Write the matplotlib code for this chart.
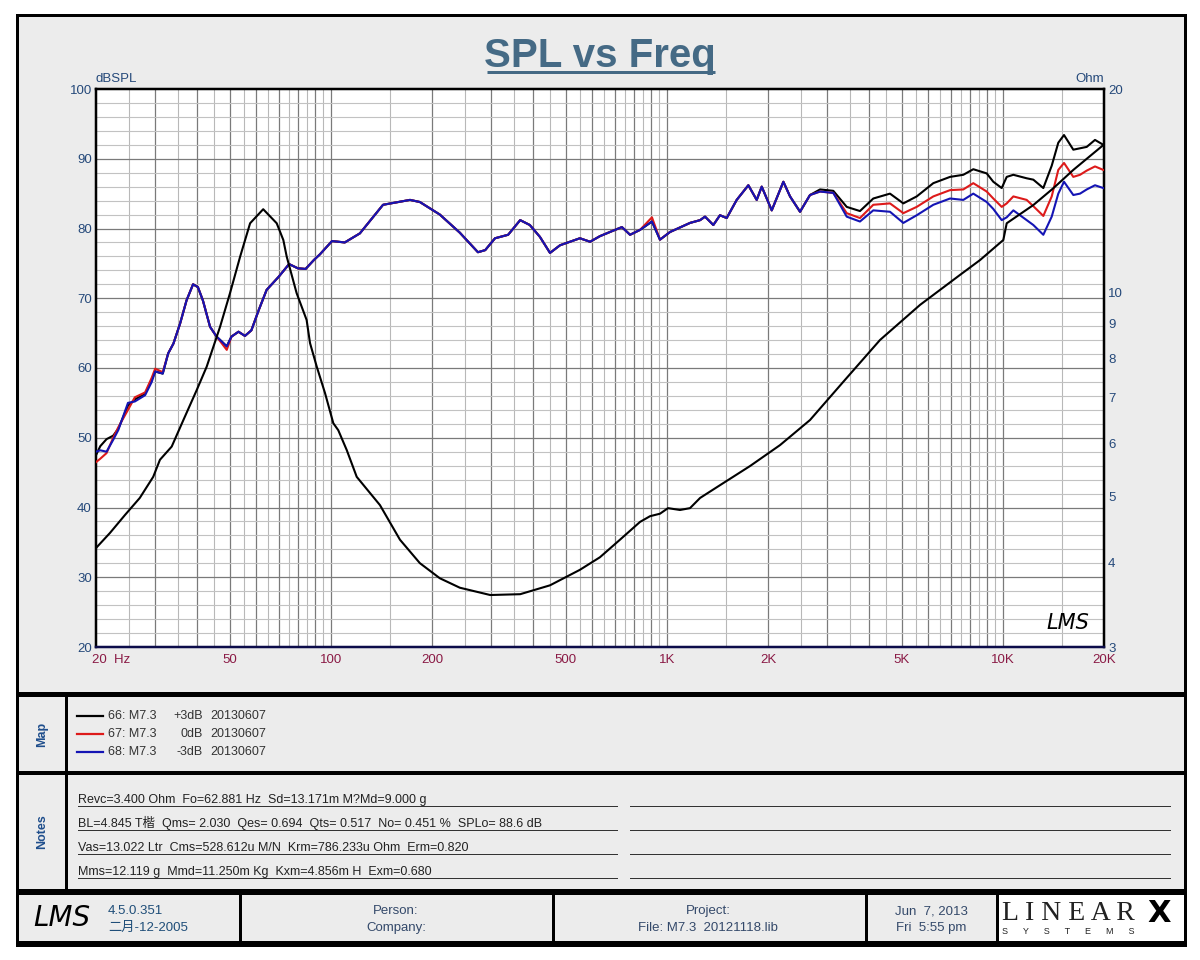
import matplotlib
matplotlib.use('Agg')
import matplotlib.pyplot as plt
from matplotlib.patches import Rectangle
from matplotlib.ticker import NullLocator, NullFormatter
from matplotlib.transforms import ScaledTranslation

plt.rcParams['font.family'] = ['Liberation Sans', 'Noto Sans CJK SC', 'DejaVu Sans']

W, H = 1200, 960

# ---- SPL curves (dB) ----
spl_freq = [20, 20.6, 21.5, 22.5, 23.3, 24.9, 26.1, 28.0, 29.3, 30.0,
            31.6, 32.8, 34.0, 35.6, 37.2, 38.9, 40.2, 41.6, 43.7, 45.7,
            49.0, 50.6, 53.1, 55.5, 58.0, 61.0, 64.4, 70.0, 75.1, 79.7,
            84.1, 89.1, 92.8, 100.8, 110, 122, 143, 172, 184, 211,
            242, 274, 288, 308, 337, 366, 391, 419, 449, 481,
            551, 591, 632, 701, 735, 777, 832, 903, 954, 1022,
            1172, 1256, 1299, 1375, 1439, 1507, 1614, 1748, 1851, 1916,
            2052, 2222, 2326, 2491, 2667, 2857, 3129, 3430, 3756, 4115,
            4614, 5056, 5542, 6209, 6963, 7626, 8166, 8952, 9367, 9922,
            10268, 10746, 11773, 12323, 13196, 13977, 14622, 15206, 16206, 16971,
            17768, 18804, 19908]

spl_blue = [48.0, 48.2, 48.0, 49.7, 51.1, 55.0, 55.2, 56.1, 58.0, 59.5,
            59.2, 62.1, 63.5, 66.4, 69.7, 72.0, 71.6, 69.7, 65.9, 64.5,
            63.1, 64.5, 65.2, 64.6, 65.4, 68.3, 71.2, 73.1, 74.9, 74.3,
            74.2, 75.5, 76.3, 78.2, 78.0, 79.3, 83.4, 84.1, 83.8, 82.0,
            79.4, 76.6, 76.9, 78.6, 79.1, 81.2, 80.5, 78.8, 76.5, 77.6,
            78.6, 78.1, 78.9, 79.8, 80.2, 79.1, 79.8, 81.0, 78.4, 79.5,
            80.8, 81.2, 81.7, 80.5, 81.9, 81.5, 84.1, 86.2, 84.1, 86.0,
            82.6, 86.7, 84.6, 82.4, 84.8, 85.3, 85.1, 81.7, 81.0, 82.6,
            82.4, 80.8, 81.9, 83.4, 84.3, 84.1, 85.0, 83.8, 82.8, 81.2,
            81.6, 82.6, 81.2, 80.5, 79.1, 81.7, 85.0, 86.7, 84.8, 85.0,
            85.6, 86.2, 85.8]

spl_red = [46.5, 47.0, 47.8, 50.0, 51.5, 54.0, 55.8, 56.5, 58.6, 59.9,
           59.4, 62.1, 63.5, 66.4, 69.7, 72.0, 71.6, 69.7, 65.9, 64.5,
           62.6, 64.5, 65.2, 64.6, 65.4, 68.3, 71.2, 73.1, 74.9, 74.3,
           74.2, 75.5, 76.3, 78.2, 78.0, 79.3, 83.4, 84.1, 83.8, 82.0,
           79.4, 76.6, 76.9, 78.6, 79.1, 81.2, 80.5, 78.8, 76.5, 77.6,
           78.6, 78.1, 78.9, 79.8, 80.2, 79.1, 79.8, 81.6, 78.4, 79.5,
           80.8, 81.2, 81.7, 80.5, 81.9, 81.5, 84.1, 86.2, 84.1, 86.0,
           82.6, 86.7, 84.6, 82.4, 84.8, 85.3, 85.1, 82.2, 81.5, 83.4,
           83.6, 82.2, 83.1, 84.6, 85.5, 85.6, 86.5, 85.3, 84.3, 83.1,
           83.6, 84.6, 84.1, 83.2, 81.8, 84.6, 88.4, 89.4, 87.4, 87.7,
           88.3, 88.9, 88.4]

spl_black = [47.5, 48.8, 49.8, 50.3, 51.3, 54.6, 55.5, 56.3, 58.3, 59.5,
             59.2, 62.1, 63.5, 66.4, 69.7, 72.0, 71.6, 69.7, 65.9, 64.5,
             63.1, 64.5, 65.2, 64.6, 65.4, 68.3, 71.2, 73.1, 74.9, 74.3,
             74.2, 75.5, 76.3, 78.2, 78.0, 79.3, 83.4, 84.1, 83.8, 82.0,
             79.4, 76.6, 76.9, 78.6, 79.1, 81.2, 80.5, 78.8, 76.5, 77.6,
             78.6, 78.1, 78.9, 79.8, 80.2, 79.1, 79.8, 81.0, 78.4, 79.5,
             80.8, 81.2, 81.7, 80.5, 81.9, 81.5, 84.1, 86.2, 84.1, 86.0,
             82.6, 86.7, 84.6, 82.4, 84.8, 85.6, 85.4, 83.1, 82.5, 84.3,
             85.0, 83.6, 84.6, 86.5, 87.4, 87.7, 88.5, 87.9, 86.7, 85.8,
             87.4, 87.7, 87.2, 87.0, 85.8, 89.0, 92.3, 93.4, 91.3, 91.5,
             91.7, 92.7, 92.0]

# ---- impedance curve (Ohm) ----
imp_freq = [20, 22.0, 24.4, 27.0, 29.6, 31.0, 33.6, 36.4, 39.9, 42.7,
            46.8, 50.1, 53.7, 57.5, 62.9, 69.0, 72.2, 73.9, 79.1, 84.7,
            86.7, 90.8, 96.1, 101.7, 105.2, 111.5, 119.4, 140, 160.6, 184,
            211, 242, 298, 366, 449, 551, 632, 725, 832, 891,
            954, 1008, 1094, 1172, 1256, 1439, 1768, 2172, 2667, 3390,
            4309, 5670, 7456, 8552, 10032, 10268, 12323, 14126, 16206, 19908]
imp_ohm = [4.20, 4.42, 4.70, 4.98, 5.35, 5.67, 5.93, 6.49, 7.19, 7.78,
           8.91, 9.99, 11.31, 12.67, 13.29, 12.67, 11.97, 11.31, 9.99, 9.12,
           8.43, 7.78, 7.11, 6.42, 6.27, 5.86, 5.35, 4.86, 4.32, 3.99,
           3.79, 3.67, 3.58, 3.59, 3.70, 3.90, 4.07, 4.32, 4.59, 4.68,
           4.72, 4.81, 4.78, 4.81, 4.98, 5.20, 5.55, 5.96, 6.49, 7.44,
           8.52, 9.60, 10.63, 11.18, 11.97, 12.67, 13.48, 14.27, 15.19, 16.53]

x_ticks = [20, 50, 100, 200, 500, 1000, 2000, 5000, 10000, 20000]
x_tick_labels = ['20  Hz', '50', '100', '200', '500', '1K', '2K', '5K', '10K', '20K']
db_ticks = [20, 30, 40, 50, 60, 70, 80, 90, 100]
ohm_ticks = [3, 4, 5, 6, 7, 8, 9, 10, 20]

legend_names = ['66: M7.3', '67: M7.3', '68: M7.3']
legend_levels = ['+3dB', '0dB', '-3dB']
legend_dates = ['20130607', '20130607', '20130607']
legend_colors = ['black', '#dd1a1a', '#1414b4']

notes_lines = [
    'Revc=3.400 Ohm  Fo=62.881 Hz  Sd=13.171m M?Md=9.000 g',
    'BL=4.845 T楷  Qms= 2.030  Qes= 0.694  Qts= 0.517  No= 0.451 %  SPLo= 88.6 dB',
    'Vas=13.022 Ltr  Cms=528.612u M/N  Krm=786.233u Ohm  Erm=0.820',
    'Mms=12.119 g  Mmd=11.250m Kg  Kxm=4.856m H  Exm=0.680',
]

GRAY_BG = '#ececec'
AX_BLUE = '#25497a'
TICK_RED = '#8a1a45'
TITLE_COL = '#456a85'
FOOT_COL = '#34496a'
PX = 0.72  # one pixel in points at dpi 100

fig = plt.figure(figsize=(12, 9.6), dpi=100)
fig.patch.set_facecolor('white')

# background layer in pixel coordinates
bg = fig.add_axes([0, 0, 1, 1], zorder=0)
bg.set_xlim(0, W)
bg.set_ylim(H, 0)
bg.axis('off')

bg.add_patch(Rectangle((17, 15), 1168, 930, facecolor=GRAY_BG,
                       edgecolor='black', lw=3 * PX))
bg.add_patch(Rectangle((998, 895), 186, 48, facecolor='white', edgecolor='none'))

def hline(y, x0=17, x1=1185, w=3):
    bg.plot([x0, x1], [y, y], color='black', lw=w * PX, solid_capstyle='butt')

def vline(x, y0, y1, w=3):
    bg.plot([x, x], [y0, y1], color='black', lw=w * PX, solid_capstyle='butt')

hline(694, w=5)
hline(773, w=4)
hline(892, w=6)
hline(943, w=4)
vline(66, 694, 892, w=3)
for xd in [240, 553, 866, 997]:
    vline(xd, 892, 943, w=3)

# title
bg.text(600, 67, 'SPL vs Freq', ha='center', va='baseline', fontsize=29,
        fontweight='bold', color=TITLE_COL)
bg.plot([487, 715], [72, 72], color=TITLE_COL, lw=3 * PX, solid_capstyle='butt')

bg.text(96, 79, 'dBSPL', ha='left', va='center', fontsize=9.5, color=AX_BLUE)
bg.text(1104, 79, 'Ohm', ha='right', va='center', fontsize=9.5, color=AX_BLUE)

# Map panel
bg.text(42, 734, 'Map', rotation=90, ha='center', va='center', fontsize=9,
        fontweight='bold', color='#1f4e8c')
for i in range(3):
    yy = 716 + 18 * i
    bg.plot([77, 103], [yy, yy], color=legend_colors[i], lw=1.6)
    bg.text(108, yy, legend_names[i], ha='left', va='center', fontsize=9, color='#333333')
    bg.text(203, yy, legend_levels[i], ha='right', va='center', fontsize=9, color='#333333')
    bg.text(210, yy, legend_dates[i], ha='left', va='center', fontsize=9, color='#333333')

# Notes panel
bg.text(42, 832, 'Notes', rotation=90, ha='center', va='center', fontsize=9,
        fontweight='bold', color='#1f4e8c')
for i, line in enumerate(notes_lines):
    yy = 803 + 24 * i
    bg.text(78, yy, line, ha='left', va='baseline', fontsize=9, color='#222222')
    bg.plot([78, 617], [yy + 2.5, yy + 2.5], color='#333333', lw=1.0 * PX)
    bg.plot([630, 1170], [yy + 2.5, yy + 2.5], color='#333333', lw=1.0 * PX)

# footer
bg.text(62, 918, 'LMS', ha='center', va='center', fontsize=20, style='italic',
        family='DejaVu Sans', fontweight='light', color='black')
bg.text(108, 911, '4.5.0.351', ha='left', va='center', fontsize=9.5, color='#1f4e79')
bg.text(108, 928, '二月-12-2005', ha='left', va='center', fontsize=9.5, color='#1f4e79',
        family=['Liberation Sans', 'Noto Sans CJK SC'])
bg.text(396, 911, 'Person:', ha='center', va='center', fontsize=9.5, color=FOOT_COL)
bg.text(396, 928, 'Company:', ha='center', va='center', fontsize=9.5, color=FOOT_COL)
bg.text(708, 911, 'Project:', ha='center', va='center', fontsize=9.5, color=FOOT_COL)
bg.text(708, 928, 'File: M7.3  20121118.lib', ha='center', va='center', fontsize=9.5,
        color=FOOT_COL)
bg.text(931, 911, 'Jun  7, 2013', ha='center', va='center', fontsize=9.5, color=FOOT_COL)
bg.text(931, 928, 'Fri  5:55 pm', ha='center', va='center', fontsize=9.5, color=FOOT_COL)
bg.text(1002, 914, 'L I N E A R', ha='left', va='center', fontsize=20,
        family='Liberation Serif', color='#222222')
bg.text(1147, 913, 'X', ha='left', va='center', fontsize=22, fontweight='bold',
        family='DejaVu Sans', color='black')
bg.text(1002, 931, 'S      Y      S      T      E      M      S', ha='left', va='center',
        fontsize=6.5, color='#222222')

# ---- main plot ----
ax = fig.add_axes([96 / W, 1 - 647 / H, 1008 / W, 558 / H], zorder=2)
ax.set_facecolor('white')
ax.set_xscale('log')
ax.set_xlim(20, 20000)
ax.set_ylim(20, 100)

# grid lines: dark on 1-2-3..9 x decade, light on the half steps
dark_f, light_f = [], []
for dec in [10, 100, 1000, 10000]:
    for m in range(1, 10):
        f = m * dec
        if 20 < f < 20000:
            dark_f.append(f)
        fh = (m + 0.5) * dec
        if 20 < fh < 20000:
            light_f.append(fh)
for f in light_f:
    ax.axvline(f, color='#b8b8b8', lw=0.8, zorder=0)
for f in dark_f:
    ax.axvline(f, color='#7a7a7a', lw=0.9, zorder=0)
for d in range(22, 100, 2):
    ax.axhline(d, color='#7a7a7a' if d % 10 == 0 else '#c2c2c2',
               lw=0.9 if d % 10 == 0 else 0.8, zorder=0)

ax.plot(spl_freq, spl_black, color='black', lw=1.5, zorder=3)
ax.plot(spl_freq, spl_red, color='#dd1a1a', lw=1.5, zorder=4)
ax.plot(spl_freq, spl_blue, color='#1414b4', lw=1.5, zorder=5)

ax.set_xticks(x_ticks)
ax.set_xticklabels(x_tick_labels)
ax.xaxis.set_minor_locator(NullLocator())
ax.set_yticks(db_ticks)
ax.tick_params(axis='x', length=0, pad=5, labelsize=9.5, labelcolor=TICK_RED)
ax.tick_params(axis='y', length=0, pad=3, labelsize=9.5, labelcolor=AX_BLUE)
first = ax.get_xticklabels()[0]
first.set_ha('left')
first.set_transform(first.get_transform() + ScaledTranslation(-4 / 100, 0, fig.dpi_scale_trans))

for side in ['left', 'top', 'right']:
    ax.spines[side].set_linewidth(2.5 * PX)
    ax.spines[side].set_color('black')
ax.spines['bottom'].set_linewidth(2.5 * PX)
ax.spines['bottom'].set_color('#0c0c4a')

ax.text(0.985, 0.025, 'LMS', transform=ax.transAxes, ha='right', va='bottom',
        fontsize=15, style='italic', family='DejaVu Sans', fontweight='light')

ax2 = ax.twinx()
ax2.set_zorder(3)
ax2.patch.set_visible(False)
ax2.set_yscale('log')
ax2.set_ylim(3, 20)
ax2.plot(imp_freq, imp_ohm, color='black', lw=1.5)
ax2.set_yticks(ohm_ticks)
ax2.set_yticklabels([str(t) for t in ohm_ticks])
ax2.yaxis.set_minor_locator(NullLocator())
ax2.yaxis.set_minor_formatter(NullFormatter())
ax2.tick_params(axis='y', length=0, pad=3, labelsize=9.5, labelcolor=AX_BLUE)
for s in ax2.spines.values():
    s.set_visible(False)

fig.savefig('out.png', dpi=100)
